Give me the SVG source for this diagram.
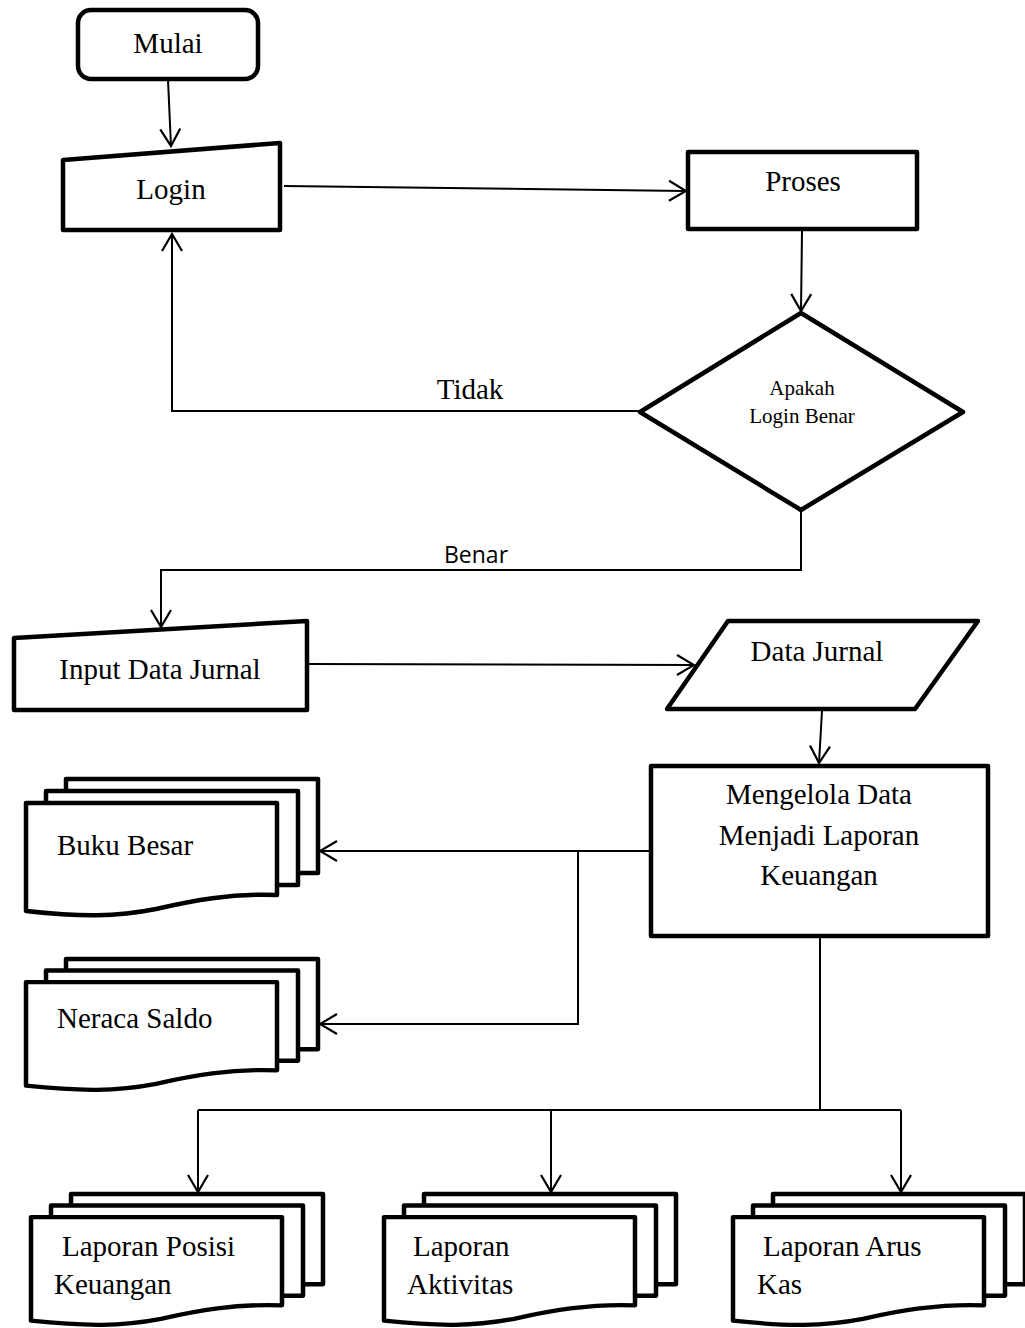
<svg xmlns="http://www.w3.org/2000/svg" xmlns:xlink="http://www.w3.org/1999/xlink" width="1025" height="1328" viewBox="0 0 1025 1328">
<style>
.shape{fill:#fff;stroke:#000;stroke-width:4.5;stroke-linejoin:round}
.conn{fill:none;stroke:#000;stroke-width:2}
.t{font-family:"Liberation Serif","Times New Roman",serif;font-size:29px;fill:#000}
.ts{font-family:"Liberation Serif","Times New Roman",serif;font-size:21px;fill:#000}
.tb{font-family:"Open Sans","Liberation Sans",sans-serif;font-size:23px;fill:#000}
.m{text-anchor:middle}
</style>
<defs>
<marker id="arr" markerUnits="userSpaceOnUse" viewBox="0 0 20 24" refX="18" refY="12" markerWidth="20" markerHeight="24" orient="auto">
<path d="M1,2 L18,12 L1,22" fill="none" stroke="#000" stroke-width="2.2"/>
</marker>
<g id="docstack">
<rect class="shape" x="40" y="0" width="252" height="94"/>
<rect class="shape" x="20" y="12" width="252" height="94"/>
<path class="shape" d="M0,24 H251 V116 C205,114 165,122 130,130 C90,138 55,138 0,132 Z"/>
</g>
</defs>
<rect width="1025" height="1328" fill="#fff"/>

<g id="connectors">
<line class="conn" x1="168" y1="80" x2="171" y2="146" marker-end="url(#arr)"/>
<line class="conn" x1="284" y1="186" x2="686" y2="191" marker-end="url(#arr)"/>
<line class="conn" x1="802" y1="231" x2="801" y2="311" marker-end="url(#arr)"/>
<polyline class="conn" points="640,411 172,411 172,234" marker-end="url(#arr)"/>
<polyline class="conn" points="801,511 801,570 161,570 161,627" marker-end="url(#arr)"/>
<line class="conn" x1="308" y1="664" x2="694" y2="665" marker-end="url(#arr)"/>
<line class="conn" x1="822" y1="711" x2="819" y2="763" marker-end="url(#arr)"/>
<polyline class="conn" points="651,851 320,851" marker-end="url(#arr)"/>
<polyline class="conn" points="578,851 578,1024 320,1024" marker-end="url(#arr)"/>
<polyline class="conn" points="820,937 820,1110 198,1110"/>
<line class="conn" x1="820" y1="1110" x2="901" y2="1110"/>
<line class="conn" x1="198" y1="1110" x2="198" y2="1192" marker-end="url(#arr)"/>
<line class="conn" x1="551" y1="1110" x2="551" y2="1192" marker-end="url(#arr)"/>
<line class="conn" x1="901" y1="1110" x2="901" y2="1192" marker-end="url(#arr)"/>
<text class="t m" x="470" y="399">Tidak</text>
<text class="tb m" x="476" y="563">Benar</text>
</g>

<g id="mulai">
<rect class="shape" x="78" y="10" width="180" height="69" rx="13"/>
<text class="t m" x="168" y="53">Mulai</text>
</g>

<g id="login">
<path class="shape" d="M63,160 L280,143 L280,230 L63,230 Z"/>
<text class="t m" x="171" y="199">Login</text>
</g>

<g id="proses">
<rect class="shape" x="688" y="152" width="229" height="77"/>
<text class="t m" x="803" y="191">Proses</text>
</g>

<g id="keputusan">
<path class="shape" d="M801,313 L963,412 L801,510 L640,412 Z"/>
<text class="ts m" x="802" y="395">Apakah</text>
<text class="ts m" x="802" y="423">Login Benar</text>
</g>

<g id="input-data-jurnal">
<path class="shape" d="M14,638 L307,621 L307,710 L14,710 Z"/>
<text class="t m" x="160" y="679">Input Data Jurnal</text>
</g>

<g id="data-jurnal">
<path class="shape" d="M728,621 L978,621 L915,709 L667,709 Z"/>
<text class="t m" x="817" y="661">Data Jurnal</text>
</g>

<g id="mengelola">
<rect class="shape" x="651" y="766" width="337" height="170"/>
<text class="t m" x="819" y="804">Mengelola Data</text>
<text class="t m" x="819" y="845">Menjadi Laporan</text>
<text class="t m" x="819" y="885">Keuangan</text>
</g>

<g id="buku-besar">
<use xlink:href="#docstack" transform="translate(26,779)"/>
<text class="t" x="57" y="855">Buku Besar</text>
</g>

<g id="neraca-saldo">
<use xlink:href="#docstack" transform="translate(26,959) scale(1,0.96)"/>
<text class="t" x="57" y="1028">Neraca Saldo</text>
</g>

<g id="laporan-posisi-keuangan">
<use xlink:href="#docstack" transform="translate(31,1194) scale(1,0.96)"/>
<text class="t" x="62" y="1256">Laporan Posisi</text>
<text class="t" x="54" y="1294">Keuangan</text>
</g>

<g id="laporan-aktivitas">
<use xlink:href="#docstack" transform="translate(384,1194) scale(1,0.96)"/>
<text class="t" x="413" y="1256">Laporan</text>
<text class="t" x="407" y="1294">Aktivitas</text>
</g>

<g id="laporan-arus-kas">
<use xlink:href="#docstack" transform="translate(733,1194) scale(1,0.96)"/>
<text class="t" x="763" y="1256">Laporan Arus</text>
<text class="t" x="757" y="1294">Kas</text>
</g>
</svg>
